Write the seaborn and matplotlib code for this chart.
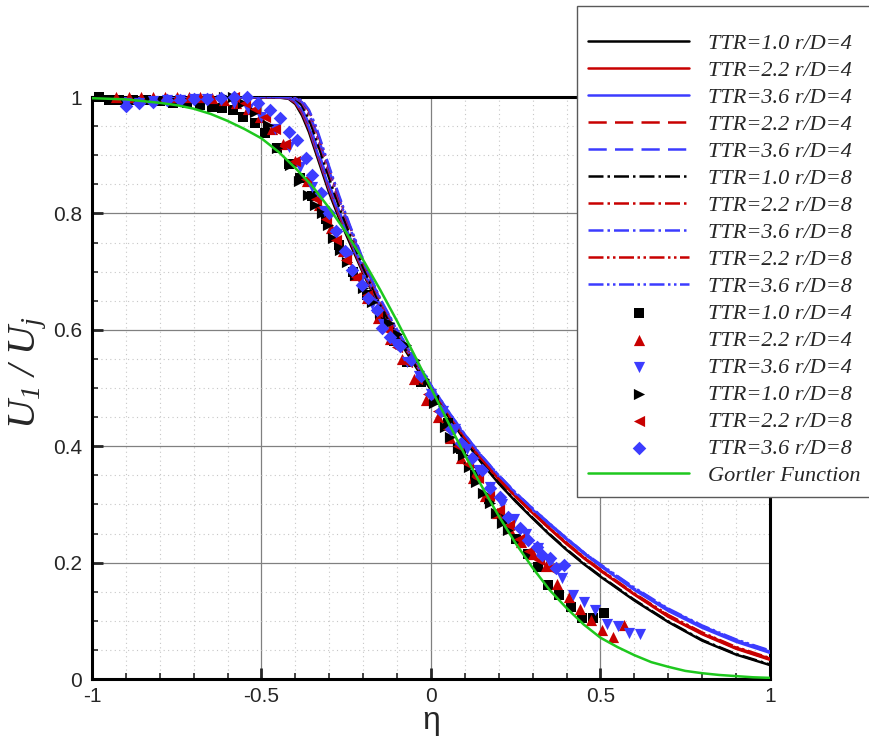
import numpy as np
import pandas as pd
import seaborn as sns
import matplotlib.pyplot as plt
from matplotlib.ticker import MultipleLocator

# --- simulation profiles (lines) ---
eta_sim = [-1.0, -0.6, -0.46, -0.42, -0.40, -0.38, -0.36, -0.34, -0.32, -0.30, -0.27, -0.24,
           -0.20, -0.15, -0.10, -0.05, 0.0, 0.05, 0.10, 0.15, 0.20, 0.25, 0.30, 0.35, 0.40,
           0.45, 0.50, 0.60, 0.70, 0.80, 0.90, 1.0]
sim_ttr10_rd4 = [1.0, 1.0, 1.0, 0.997, 0.988, 0.968, 0.94, 0.905, 0.87, 0.835, 0.79, 0.75, 0.697, 0.637,
                 0.587, 0.541, 0.497, 0.452, 0.41, 0.371, 0.336, 0.305, 0.276, 0.248, 0.222, 0.198,
                 0.176, 0.135, 0.098, 0.066, 0.042, 0.024]
sim_ttr22_rd4 = [1.0, 1.0, 1.0, 0.998, 0.99, 0.972, 0.945, 0.91, 0.875, 0.84, 0.795, 0.755, 0.70, 0.64,
                 0.59, 0.545, 0.50, 0.456, 0.414, 0.376, 0.343, 0.313, 0.285, 0.258, 0.232, 0.208,
                 0.186, 0.145, 0.107, 0.077, 0.052, 0.033]
sim_ttr36_rd4 = [1.0, 1.0, 1.0, 0.998, 0.992, 0.975, 0.948, 0.913, 0.878, 0.843, 0.798, 0.757, 0.702, 0.642,
                 0.592, 0.547, 0.502, 0.459, 0.418, 0.381, 0.348, 0.318, 0.291, 0.265, 0.24, 0.216,
                 0.194, 0.153, 0.117, 0.088, 0.064, 0.045]
sim_ttr22_rd4_b = [1.0, 1.0, 1.0, 0.999, 0.993, 0.977, 0.952, 0.918, 0.882, 0.847, 0.80, 0.758, 0.703, 0.642,
                   0.591, 0.546, 0.501, 0.457, 0.415, 0.377, 0.344, 0.314, 0.286, 0.259, 0.233, 0.209,
                   0.187, 0.146, 0.109, 0.079, 0.054, 0.035]
sim_ttr36_rd4_b = [1.0, 1.0, 1.0, 0.999, 0.994, 0.979, 0.955, 0.921, 0.885, 0.85, 0.803, 0.76, 0.705, 0.644,
                   0.593, 0.548, 0.503, 0.46, 0.419, 0.382, 0.349, 0.319, 0.292, 0.266, 0.241, 0.217,
                   0.195, 0.155, 0.119, 0.09, 0.066, 0.047]
sim_ttr10_rd8 = [1.0, 1.0, 1.0, 1.0, 0.997, 0.985, 0.962, 0.93, 0.895, 0.86, 0.81, 0.765, 0.707, 0.643,
                 0.59, 0.543, 0.498, 0.453, 0.411, 0.372, 0.337, 0.306, 0.277, 0.249, 0.223, 0.199,
                 0.177, 0.136, 0.099, 0.067, 0.043, 0.025]
sim_ttr22_rd8 = [1.0, 1.0, 1.0, 1.0, 0.998, 0.99, 0.97, 0.94, 0.905, 0.87, 0.82, 0.775, 0.715, 0.65,
                 0.597, 0.55, 0.503, 0.458, 0.416, 0.378, 0.344, 0.314, 0.286, 0.259, 0.233, 0.209,
                 0.187, 0.146, 0.108, 0.078, 0.053, 0.034]
sim_ttr36_rd8 = [1.0, 1.0, 1.0, 1.0, 0.998, 0.991, 0.972, 0.943, 0.908, 0.873, 0.823, 0.777, 0.717, 0.652,
                 0.599, 0.552, 0.505, 0.461, 0.42, 0.383, 0.35, 0.32, 0.293, 0.267, 0.242, 0.218,
                 0.196, 0.156, 0.12, 0.091, 0.067, 0.048]
sim_ttr22_rd8_b = [1.0, 1.0, 1.0, 1.0, 0.999, 0.993, 0.976, 0.948, 0.913, 0.877, 0.826, 0.779, 0.718, 0.652,
                   0.598, 0.55, 0.503, 0.458, 0.416, 0.378, 0.344, 0.314, 0.286, 0.259, 0.234, 0.21,
                   0.188, 0.147, 0.11, 0.08, 0.055, 0.036]
sim_ttr36_rd8_b = [1.0, 1.0, 1.0, 1.0, 0.999, 0.994, 0.978, 0.951, 0.916, 0.88, 0.829, 0.781, 0.72, 0.654,
                   0.60, 0.552, 0.505, 0.461, 0.42, 0.383, 0.35, 0.32, 0.293, 0.267, 0.242, 0.218,
                   0.197, 0.157, 0.121, 0.092, 0.068, 0.049]

# --- Gortler function ---
eta_gortler = [-1.0, -0.95, -0.9, -0.85, -0.8, -0.75, -0.7, -0.65, -0.6, -0.55, -0.5, -0.45, -0.4, -0.35,
               -0.3, -0.25, -0.2, -0.15, -0.1, -0.05, 0.0, 0.05, 0.1, 0.15, 0.2, 0.25, 0.3, 0.35, 0.4,
               0.45, 0.5, 0.55, 0.6, 0.65, 0.7, 0.75, 0.8, 0.85, 0.9, 0.95, 1.0]
u_gortler = [0.998, 0.997, 0.996, 0.993, 0.990, 0.986, 0.980, 0.971, 0.959, 0.945, 0.929, 0.906, 0.878,
             0.847, 0.809, 0.767, 0.72, 0.669, 0.615, 0.558, 0.5, 0.442, 0.385, 0.331, 0.28, 0.233,
             0.191, 0.153, 0.122, 0.094, 0.071, 0.055, 0.041, 0.029, 0.021, 0.014, 0.010, 0.007,
             0.005, 0.003, 0.002]

# --- experimental data (markers) ---
sq_eta = [-0.98, -0.95, -0.92, -0.88, -0.84, -0.80, -0.76, -0.72, -0.68, -0.645, -0.615, -0.585, -0.555,
          -0.52, -0.49, -0.455, -0.42, -0.386, -0.35, -0.31, -0.27, -0.23, -0.19, -0.15, -0.11, -0.07,
          -0.03, 0.01, 0.05, 0.09, 0.13, 0.17, 0.21, 0.25, 0.285, 0.316, 0.345, 0.378, 0.413, 0.445,
          0.478, 0.51]
sq_u = [1.0, 0.995, 0.995, 0.995, 0.995, 0.993, 0.99, 0.99, 0.987, 0.983, 0.981, 0.978, 0.966, 0.955,
        0.938, 0.912, 0.885, 0.861, 0.83, 0.79, 0.745, 0.70, 0.66, 0.62, 0.58, 0.545, 0.51, 0.48, 0.44,
        0.395, 0.35, 0.31, 0.275, 0.24, 0.215, 0.192, 0.161, 0.144, 0.124, 0.105, 0.105, 0.113]

up_eta = [-0.93, -0.89, -0.855, -0.82, -0.785, -0.75, -0.715, -0.68, -0.645, -0.61, -0.575, -0.54, -0.505,
          -0.47, -0.435, -0.40, -0.365, -0.33, -0.295, -0.26, -0.225, -0.19, -0.155, -0.12, -0.085,
          -0.05, -0.015, 0.02, 0.055, 0.09, 0.125, 0.16, 0.195, 0.23, 0.265, 0.30, 0.339, 0.372, 0.407,
          0.44, 0.472, 0.504, 0.537, 0.569]
up_u = [1.0, 1.0, 1.0, 1.0, 1.0, 1.0, 1.0, 1.0, 0.998, 0.995, 0.99, 0.98, 0.965, 0.945, 0.92, 0.89,
        0.855, 0.815, 0.775, 0.735, 0.695, 0.655, 0.62, 0.585, 0.55, 0.515, 0.48, 0.45, 0.415, 0.38,
        0.345, 0.315, 0.285, 0.26, 0.235, 0.215, 0.194, 0.163, 0.141, 0.12, 0.101, 0.084, 0.072, 0.093]

dn_eta = [-0.90, -0.86, -0.82, -0.78, -0.74, -0.70, -0.66, -0.62, -0.58, -0.54, -0.50, -0.46, -0.42,
          -0.385, -0.35, -0.315, -0.28, -0.245, -0.21, -0.175, -0.14, -0.105, -0.07, -0.035, 0.0, 0.035,
          0.07, 0.105, 0.14, 0.175, 0.21, 0.245, 0.28, 0.315, 0.35, 0.386, 0.419, 0.451, 0.484, 0.519,
          0.552, 0.584, 0.617]
dn_u = [0.99, 0.99, 0.993, 0.995, 0.995, 0.997, 0.997, 0.995, 0.99, 0.98, 0.965, 0.945, 0.915, 0.88,
        0.845, 0.805, 0.765, 0.725, 0.685, 0.645, 0.61, 0.575, 0.545, 0.52, 0.49, 0.46, 0.43, 0.395,
        0.36, 0.33, 0.30, 0.275, 0.25, 0.225, 0.20, 0.174, 0.144, 0.132, 0.119, 0.094, 0.091, 0.079, 0.077]

rt_eta = [-0.61, -0.585, -0.555, -0.52, -0.48, -0.454, -0.416, -0.39, -0.363, -0.342, -0.322, -0.304,
          -0.289, -0.268, -0.248, -0.225, -0.20, -0.175, -0.15, -0.125, -0.10, -0.075, -0.047, -0.02,
          0.01, 0.041, 0.056, 0.08, 0.095, 0.112, 0.133, 0.153, 0.174, 0.192, 0.209, 0.227]
rt_u = [1.0, 1.0, 0.99, 0.975, 0.952, 0.912, 0.883, 0.855, 0.832, 0.815, 0.80, 0.78, 0.758, 0.737,
        0.717, 0.695, 0.672, 0.648, 0.63, 0.612, 0.592, 0.574, 0.548, 0.515, 0.475, 0.433, 0.416, 0.397,
        0.385, 0.364, 0.338, 0.32, 0.302, 0.285, 0.268, 0.256]

lt_eta = [-0.58, -0.55, -0.52, -0.49, -0.46, -0.43, -0.40, -0.37, -0.34, -0.31, -0.28, -0.25, -0.22,
          -0.19, -0.16, -0.13, -0.10, -0.07, -0.04, -0.01, 0.02, 0.05, 0.08, 0.11, 0.14, 0.17, 0.20,
          0.23, 0.26, 0.29, 0.32, 0.35]
lt_u = [1.0, 0.99, 0.98, 0.965, 0.945, 0.92, 0.89, 0.86, 0.825, 0.79, 0.755, 0.72, 0.69, 0.66, 0.63,
        0.60, 0.57, 0.545, 0.515, 0.49, 0.46, 0.43, 0.40, 0.37, 0.345, 0.315, 0.29, 0.265, 0.24, 0.22,
        0.205, 0.19]

dm_eta = [-0.90, -0.86, -0.82, -0.78, -0.74, -0.70, -0.66, -0.62, -0.58, -0.543, -0.51, -0.475, -0.445,
          -0.42, -0.395, -0.37, -0.35, -0.325, -0.30, -0.28, -0.255, -0.233, -0.204, -0.186, -0.16,
          -0.145, -0.121, -0.09, -0.06, -0.03, 0.0, 0.03, 0.06, 0.09, 0.12, 0.15, 0.174, 0.204, 0.227,
          0.262, 0.286, 0.313, 0.327, 0.351, 0.369, 0.392]
dm_u = [0.985, 0.99, 0.992, 0.995, 0.995, 0.997, 0.997, 0.998, 1.0, 1.0, 0.99, 0.978, 0.964, 0.94,
        0.926, 0.895, 0.866, 0.835, 0.80, 0.77, 0.735, 0.703, 0.677, 0.655, 0.634, 0.603, 0.588, 0.572,
        0.548, 0.52, 0.49, 0.46, 0.43, 0.405, 0.38, 0.36, 0.328, 0.313, 0.278, 0.259, 0.239, 0.227,
        0.213, 0.208, 0.19, 0.196]

x_ticks = [-1, -0.5, 0, 0.5, 1]
x_ticklabels = ['-1', '-0.5', '0', '0.5', '1']
y_ticks = [0, 0.2, 0.4, 0.6, 0.8, 1]
y_ticklabels = ['0', '0.2', '0.4', '0.6', '0.8', '1']

BLACK = 'black'
RED = '#c80000'
BLUE = '#3c3cff'
GREEN = '#1ec81e'

dashed = (0, (7.3, 3.3))
dashdot = (0, (6, 1.6, 1, 1.6))
dashdotdot = (0, (6, 1.4, 1, 1.4, 1, 1.4))

sim_lines = [
    ('TTR=1.0 r/D=4', sim_ttr10_rd4, BLACK, '-'),
    ('TTR=2.2 r/D=4', sim_ttr22_rd4, RED, '-'),
    ('TTR=3.6 r/D=4', sim_ttr36_rd4, BLUE, '-'),
    ('TTR=2.2 r/D=4', sim_ttr22_rd4_b, RED, dashed),
    ('TTR=3.6 r/D=4', sim_ttr36_rd4_b, BLUE, dashed),
    ('TTR=1.0 r/D=8', sim_ttr10_rd8, BLACK, dashdot),
    ('TTR=2.2 r/D=8', sim_ttr22_rd8, RED, dashdot),
    ('TTR=3.6 r/D=8', sim_ttr36_rd8, BLUE, dashdot),
    ('TTR=2.2 r/D=8', sim_ttr22_rd8_b, RED, dashdotdot),
    ('TTR=3.6 r/D=8', sim_ttr36_rd8_b, BLUE, dashdotdot),
]

exp_sets = [
    ('TTR=1.0 r/D=4', sq_eta, sq_u, BLACK, 's', 55),
    ('TTR=2.2 r/D=4', up_eta, up_u, RED, '^', 65),
    ('TTR=3.6 r/D=4', dn_eta, dn_u, BLUE, 'v', 65),
    ('TTR=1.0 r/D=8', rt_eta, rt_u, BLACK, '>', 65),
    ('TTR=2.2 r/D=8', lt_eta, lt_u, RED, '<', 65),
    ('TTR=3.6 r/D=8', dm_eta, dm_u, BLUE, 'D', 48),
]

sns.set_style("white")
plt.rcParams['font.family'] = ['Liberation Sans', 'DejaVu Sans']
plt.rcParams['mathtext.fontset'] = 'custom'
plt.rcParams['mathtext.rm'] = 'Liberation Serif:italic'
plt.rcParams['mathtext.it'] = 'Liberation Serif:italic'

fig = plt.figure(figsize=(8.7, 7.43), dpi=100)
ax = fig.add_axes([0.1057, 0.0861, 0.7793, 0.7833])

for lab, vals, col, ls in sim_lines:
    sns.lineplot(x=eta_sim, y=vals, ax=ax, color=col, linestyle=ls, lw=1.8,
                 sort=False, estimator=None, label=lab, zorder=3)

for lab, ex, ey, col, mk, sz in exp_sets:
    sns.scatterplot(x=ex, y=ey, ax=ax, color=col, marker=mk, s=sz, linewidth=0,
                    label=lab, zorder=4, clip_on=False)

sns.lineplot(x=eta_gortler, y=u_gortler, ax=ax, color=GREEN, lw=1.8, sort=False,
             estimator=None, label='Gortler Function', zorder=5)

if ax.get_legend() is not None:
    ax.get_legend().remove()

ax.set_xlim(-1, 1)
ax.set_ylim(0, 1)
ax.set_xticks(x_ticks)
ax.set_xticklabels(x_ticklabels)
ax.set_yticks(y_ticks)
ax.set_yticklabels(y_ticklabels)
ax.xaxis.set_minor_locator(MultipleLocator(0.1))
ax.yaxis.set_minor_locator(MultipleLocator(0.05))

ax.set_axisbelow(True)
ax.grid(which='major', color='0.5', lw=0.9, ls='-')
ax.grid(which='minor', color='0.78', lw=0.8, ls=(0, (1, 3)))
ax.tick_params(which='major', direction='in', length=8, width=2, labelsize=15, pad=6,
               top=False, right=False, bottom=True, left=True)
ax.tick_params(which='minor', direction='in', length=4.5, width=1.2,
               top=False, right=False, bottom=True, left=True)
ax.tick_params(axis='y', which='major', pad=7)
for sp in ax.spines.values():
    sp.set_linewidth(2.2)
    sp.set_color('black')

ax.set_xlabel('η', fontsize=23, labelpad=0)
ax.set_ylabel(r'$U_{1}\ /\ U_{j}$', fontsize=29)
ax.yaxis.set_label_coords(-0.064, 0.527)

handles = ax.lines[:10] + ax.collections[:6] + [ax.lines[10]]
labels = [h.get_label() for h in handles]
leg = fig.legend(handles, labels, loc='upper left', bbox_to_anchor=(577 / 870, 1 - 6 / 743),
                 bbox_transform=fig.transFigure, frameon=True, fancybox=False, framealpha=1,
                 edgecolor='0.35', handlelength=4.55, handletextpad=0.85, labelspacing=0.29,
                 borderpad=0.5, borderaxespad=0, title=' ', title_fontsize=7,
                 prop={'family': 'Liberation Serif', 'style': 'italic', 'size': 16})
leg.get_frame().set_linewidth(1.0)

fig.savefig('out.png', dpi=100)
